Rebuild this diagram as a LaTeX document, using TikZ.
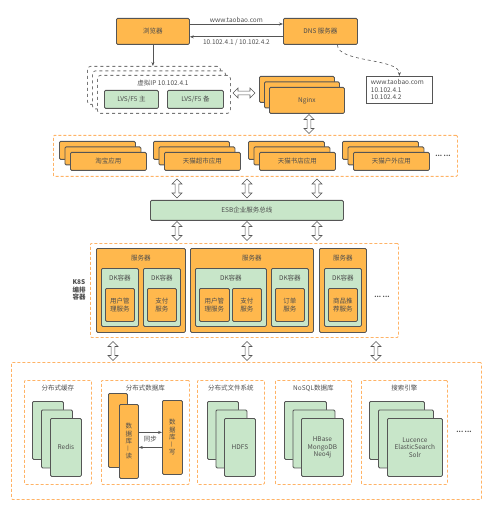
\documentclass[tikz,border=0pt]{standalone}
\usepackage{fontspec}
\setmainfont{Noto Sans CJK SC}
\usetikzlibrary{shapes.arrows}
\usetikzlibrary{arrows.meta}
\usetikzlibrary{positioning}
\usetikzlibrary{calc}

\definecolor{orng}{HTML}{FFB84D}
\definecolor{grn}{HTML}{C8E6C9}
\definecolor{edge}{HTML}{555555}
\definecolor{zonec}{HTML}{FFB366}
\definecolor{txt}{HTML}{4D4D4D}

\tikzset{
  box/.style={draw=edge, line width=0.8pt, rounded corners=1.2pt, inner sep=1pt, text=txt, align=center},
  obox/.style={box, fill=orng},
  gbox/.style={box, fill=grn},
  zonebox/.style={draw=zonec, line width=0.8pt, dash pattern=on 3pt off 2pt, rounded corners=1pt},
  vipbox/.style={draw=edge!80, dashed, line width=0.8pt, rounded corners=3pt, fill=white},
  dblh/.style={double arrow, draw=edge, fill=white, line width=0.6pt, minimum height=22pt, minimum width=10pt, inner sep=1.2pt, double arrow head extend=2.5pt},
  dblv/.style={dblh, shape border rotate=90, minimum height=19pt},
  link/.style={draw=edge, line width=0.6pt, -{Stealth[length=4pt,width=3pt]}},
  lbl/.style={text=txt, inner sep=0pt},
}

% box from corner (x1,y1) to corner (x2,y2)
\newcommand{\putbox}[7]{\node[#2, anchor=north west, minimum width={#5-#3}, minimum height={#6-#4}] (#1) at (#3,#4) {#7};}
% three layers, the front one named
\newcommand{\stackof}[9]{%
  \foreach \k in {0,1}
    \node[#2, anchor=north west, minimum width=#5, minimum height=#6] (#1-\k) at ({#3+\k*#7},{#4+\k*#8}) {};
  \node[#2, anchor=north west, minimum width=#5, minimum height=#6] (#1) at ({#3+2*#7},{#4+2*#8}) {#9};}
\newcommand{\moredots}{\raisebox{1.8pt}{\textbf{...}\ \textbf{...}}}

\begin{document}
\begin{tikzpicture}[x=1pt, y=-1pt, font=\fontsize{6.5}{7.5}\selectfont]
    \useasboundingbox (0,0) rectangle (500,510);

    % access layer
    \putbox{browser}{obox}{116}{18}{189}{44}{浏览器}
    \putbox{dns}{obox}{283}{18}{357}{44}{DNS 服务器}
    \draw[link] ([yshift=-6pt]browser.north east) -- node[lbl, above=1.5pt]{www.taobao.com} ([yshift=-6pt]dns.north west);
    \draw[link] ([yshift=8pt]dns.south west) -- node[lbl, below=2pt]{10.102.4.1 / 10.102.4.2} ([yshift=8pt]browser.south east);

    \stackof{vip}{vipbox}{87}{66}{133}{38}{5}{4.5}{}
    \node[lbl] (viptitle) at (163,83) {虚拟IP 10.102.4.1};
    \putbox{lvsa}{gbox}{104}{90}{158}{108}{LVS/F5 主}
    \putbox{lvsb}{gbox}{167}{90}{223}{108}{LVS/F5 备}
    \draw[link] (browser.south) -- (browser.south |- vip-0.north);

    \stackof{nginx}{obox}{259}{76}{75}{26}{5}{5.5}{Nginx}
    \node[dblh] (vipng) at (244,93) {};

    \putbox{dnsinfo}{box, fill=white, rounded corners=0pt, align=left, text width=57pt, inner xsep=4pt}{366}{76}{432}{103}{www.taobao.com\\10.102.4.1\\10.102.4.2}
    \draw[link, dashed] ([xshift=17pt]dns.south) .. controls +(0,18) and +(0,-18) .. (dnsinfo.north);

    \node[dblv] (ngapp) at (309,124) {};

    % applications
    \putbox{apps}{zonebox}{53}{135}{457}{176}{}
    \stackof{taobao}{obox}{59}{141}{76}{18}{5.5}{5.5}{淘宝应用}
    \stackof{tmcs}{obox}{153}{141}{76}{18}{5.5}{5.5}{天猫超市应用}
    \stackof{tmbook}{obox}{248}{141}{76}{18}{5.5}{5.5}{天猫书店应用}
    \stackof{tmout}{obox}{342}{141}{76}{18}{5.5}{5.5}{天猫户外应用}
    \node[lbl] (appmore) at (443,157) {\moredots};

    \foreach \n/\x in {a/177, b/247, c/317}
        \node[dblv] (appesb-\n) at (\x,188.5) {};
    \putbox{esb}{gbox}{150}{200}{343}{220}{ESB企业服务总线}
    \foreach \n/\x in {a/177, b/247, c/317}
        \node[dblv] (esbk8s-\n) at (\x,231) {};

    % services in K8S
    \putbox{k8s}{zonebox}{90}{243}{398}{337}{}
    \node[lbl, font=\fontsize{6.5}{7.3}\selectfont\bfseries, align=center] (k8slbl) at (79,290) {K8S\\编排\\容器};
    \putbox{srva}{obox}{96}{248}{185}{332}{}
    \putbox{srvb}{obox}{190}{248}{313}{332}{}
    \putbox{srvc}{obox}{319}{248}{366}{332}{}
    \foreach \s in {srva,srvb,srvc}
        \node[lbl] at ([yshift=-10pt]\s.north) {服务器};
    \putbox{dka}{gbox}{101}{268}{138}{326}{}
    \putbox{dkb}{gbox}{143}{268}{180}{326}{}
    \putbox{dkc}{gbox}{195}{268}{266}{326}{}
    \putbox{dkd}{gbox}{271}{268}{308}{326}{}
    \putbox{dke}{gbox}{324}{268}{361}{326}{}
    \foreach \d in {dka,dkb,dkc,dkd,dke}
        \node[lbl] at ([yshift=-10pt]\d.north) {DK容器};
    \putbox{usera}{obox}{105}{288}{134}{321}{用户管\\理服务}
    \putbox{paya}{obox}{147}{288}{176}{321}{支付\\服务}
    \putbox{userb}{obox}{199}{288}{229}{321}{用户管\\理服务}
    \putbox{payb}{obox}{232}{288}{261}{321}{支付\\服务}
    \putbox{order}{obox}{275}{288}{304}{321}{订单\\服务}
    \putbox{recom}{obox}{328}{288}{357}{321}{商品推\\荐服务}
    \node[lbl] (srvmore) at (382,298) {\moredots};

    \foreach \n/\x in {a/113, b/247, c/376}
        \node[dblv] (k8sstore-\n) at (\x,351) {};

    % storage
    \putbox{store}{zonebox}{11}{362}{481}{499}{}
    \putbox{cache}{zonebox}{24}{380}{91}{484}{}
    \putbox{db}{zonebox}{101}{380}{189}{484}{}
    \putbox{dfs}{zonebox}{197}{380}{264}{484}{}
    \putbox{nosql}{zonebox}{275}{380}{351}{484}{}
    \putbox{search}{zonebox}{361}{380}{447}{484}{}
    \foreach \z/\t in {cache/分布式缓存, db/分布式数据库, dfs/分布式文件系统, nosql/NoSQL数据库, search/搜索引擎}
        \node[lbl] at ([yshift=-8pt]\z.north) {\t};

    \stackof{redis}{gbox}{32}{401}{31}{58}{9}{8.5}{Redis}
    \stackof{hdfs}{gbox}{207}{401}{31}{58}{8.5}{8.5}{HDFS}
    \stackof{nosqls}{gbox}{284}{401}{42}{58}{8.5}{8.5}{HBase\\MongoDB\\Neo4j}
    \stackof{engines}{gbox}{369}{401}{55}{58}{9}{8.5}{Lucence\\ElasticSearch\\Solr}

    \node[obox, anchor=north west, minimum width=19pt, minimum height=74pt] (dbread-0) at (108,393) {};
    \putbox{dbread}{obox}{119}{404}{138}{478}{数\\据\\库\\\rotatebox{90}{—}\\读}
    \putbox{dbwrite}{obox}{162}{400}{182}{474}{数\\据\\库\\\rotatebox{90}{—}\\写}
    \draw[link] ([yshift=9pt]dbread.east) -- ([yshift=9pt]dbread.east -| dbwrite.west);
    \draw[link] ([yshift=-6pt]dbread.east -| dbwrite.west) -- ([yshift=-6pt]dbread.east);
    \node[lbl] (sync) at ($(dbread.east)!0.5!(dbwrite.west)$) {同步};
    \node[lbl] (storemore) at (464,433) {\moredots};
\end{tikzpicture}
\end{document}
